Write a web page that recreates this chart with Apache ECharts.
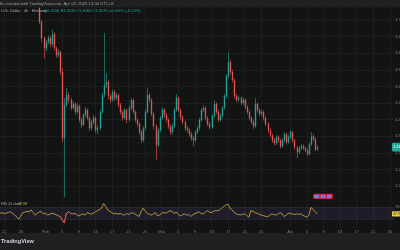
<!DOCTYPE html>
<html><head><meta charset="utf-8">
<script src="https://cdn.jsdelivr.net/npm/echarts@6/dist/echarts.min.js"></script>
<style>html,body{margin:0;padding:0;background:#121413;}#c{width:400px;height:250px;}</style>
</head><body><div id="c"></div>
<script>
// ---- data ----
const categoryCount = 191;          // 12h slots from Jan 21 2025 00:00
const candleStart = 19;             // slot index of first candle
const tickKeys = ['01-22','01-26','02-01','02-05','02-09','02-13','02-17','02-21','02-25','03-01','03-05','03-09','03-13','03-17','03-21','03-25','04-01','04-05','04-09','04-13','04-17','04-21','04-25'];
const tickLabels = ['22','26','Feb','5','9','13','17','21','25','Mar','5','9','13','17','21','25','Apr','5','9','13','17','21','25'];
const priceTicks = {min:1.15, max:1.75, interval:0.05};

const opens = [
1.736,1.694,1.646,1.615,1.633,1.646,1.627,1.658,1.615,1.594,
1.603,1.543,1.344,1.444,1.474,1.459,1.435,1.447,1.423,1.441,
1.399,1.384,1.414,1.429,1.405,1.374,1.393,1.405,1.368,1.374,
1.423,1.474,1.504,1.513,1.471,1.459,1.483,1.465,1.474,1.444,
1.423,1.405,1.429,1.399,1.435,1.459,1.423,1.399,1.387,1.362,
1.338,1.374,1.423,1.474,1.459,1.417,1.380,1.323,1.368,1.405,
1.429,1.414,1.399,1.380,1.362,1.380,1.429,1.465,1.429,1.408,
1.393,1.374,1.368,1.356,1.344,1.338,1.362,1.374,1.399,1.429,
1.435,1.405,1.387,1.377,1.411,1.447,1.423,1.399,1.411,1.435,
1.471,1.531,1.573,1.543,1.519,1.471,1.459,1.465,1.450,1.459,
1.438,1.423,1.405,1.393,1.380,1.447,1.429,1.417,1.423,1.405,
1.387,1.368,1.353,1.338,1.329,1.347,1.338,1.320,1.338,1.356,
1.332,1.347,1.362,1.338,1.317,1.302,1.314,1.320,1.314,1.308,
1.296,1.326,1.350,1.341,1.310];
const closes = [
1.694,1.646,1.615,1.633,1.646,1.627,1.658,1.615,1.594,1.603,
1.543,1.344,1.444,1.474,1.459,1.435,1.447,1.423,1.441,1.399,
1.384,1.414,1.429,1.405,1.374,1.393,1.405,1.368,1.374,1.423,
1.474,1.504,1.513,1.471,1.459,1.483,1.465,1.474,1.444,1.423,
1.405,1.429,1.399,1.435,1.459,1.423,1.399,1.387,1.362,1.338,
1.374,1.423,1.474,1.459,1.417,1.380,1.323,1.368,1.405,1.429,
1.414,1.399,1.380,1.362,1.380,1.429,1.465,1.429,1.408,1.393,
1.374,1.368,1.356,1.344,1.338,1.362,1.374,1.399,1.429,1.435,
1.405,1.387,1.377,1.411,1.447,1.423,1.399,1.411,1.435,1.471,
1.531,1.573,1.543,1.519,1.471,1.459,1.465,1.450,1.459,1.438,
1.423,1.405,1.393,1.380,1.447,1.429,1.417,1.423,1.405,1.387,
1.368,1.353,1.338,1.329,1.347,1.338,1.320,1.338,1.356,1.332,
1.347,1.362,1.338,1.317,1.302,1.314,1.320,1.314,1.308,1.296,
1.326,1.350,1.341,1.310,1.317];
const highs = [
1.745,1.700,1.650,1.640,1.655,1.652,1.670,1.664,1.620,1.612,
1.608,1.555,1.465,1.495,1.482,1.466,1.455,1.452,1.450,1.446,
1.405,1.420,1.438,1.434,1.410,1.399,1.414,1.410,1.383,1.429,
1.480,1.661,1.540,1.519,1.477,1.490,1.489,1.480,1.478,1.450,
1.428,1.435,1.433,1.442,1.466,1.463,1.428,1.404,1.392,1.368,
1.380,1.430,1.495,1.480,1.464,1.422,1.386,1.374,1.411,1.436,
1.434,1.420,1.404,1.386,1.388,1.435,1.477,1.470,1.434,1.413,
1.398,1.381,1.373,1.362,1.350,1.368,1.380,1.405,1.435,1.444,
1.440,1.410,1.393,1.417,1.459,1.452,1.428,1.418,1.441,1.477,
1.537,1.603,1.580,1.550,1.524,1.477,1.472,1.470,1.466,1.464,
1.443,1.428,1.410,1.398,1.465,1.452,1.434,1.430,1.428,1.410,
1.392,1.373,1.358,1.344,1.353,1.352,1.343,1.344,1.362,1.360,
1.353,1.368,1.366,1.342,1.322,1.320,1.326,1.325,1.319,1.313,
1.332,1.362,1.356,1.346,1.322];
const lows = [
1.688,1.633,1.585,1.607,1.627,1.618,1.620,1.608,1.585,1.588,
1.535,1.332,1.167,1.438,1.450,1.428,1.429,1.414,1.418,1.392,
1.374,1.380,1.408,1.398,1.366,1.368,1.387,1.360,1.356,1.368,
1.417,1.468,1.495,1.462,1.450,1.453,1.456,1.459,1.437,1.416,
1.396,1.400,1.390,1.394,1.430,1.416,1.392,1.378,1.354,1.330,
1.332,1.368,1.418,1.452,1.410,1.372,1.278,1.318,1.362,1.400,
1.406,1.392,1.372,1.354,1.356,1.375,1.424,1.422,1.400,1.386,
1.366,1.360,1.348,1.336,1.320,1.332,1.356,1.368,1.394,1.422,
1.398,1.380,1.370,1.372,1.406,1.416,1.392,1.394,1.406,1.430,
1.465,1.525,1.536,1.512,1.464,1.452,1.453,1.443,1.444,1.431,
1.416,1.398,1.386,1.372,1.375,1.422,1.410,1.411,1.398,1.380,
1.360,1.346,1.330,1.322,1.324,1.331,1.313,1.315,1.333,1.326,
1.327,1.342,1.331,1.310,1.284,1.297,1.309,1.308,1.302,1.290,
1.292,1.320,1.335,1.305,1.306];
const rsi = [
50,52,49,51,53,55,50,45,38,30,
40,52,54,56,55,61,52,44,50,55,
55,48,50,44,47,50,48,46,42,39,
28,18,50,55,50,48,50,46,41,45,
48,44,52,50,47,50,55,59,62,67,
83,72,61,56,52,48,50,47,50,46,
44,49,46,50,52,48,44,39,55,67,
58,50,47,44,48,52,41,45,50,53,
50,55,59,56,50,54,46,41,45,48,
44,46,40,45,49,52,55,49,48,53,
59,54,52,56,59,58,62,68,74,78,
80,66,61,52,48,46,44,47,48,43,
37,59,57,52,50,47,44,42,40,39,
42,48,46,44,47,52,48,39,44,50,
50,48,46,48,47,48,44,40,37,45,
70,62,55,47.98];

// ---- build ----
const pad = n => String(n).padStart(2,'0');
const categories = [];
for (let i = 0; i < categoryCount; i++) {
  const d = new Date(Date.UTC(2025,0,21) + i*12*3600e3);
  categories.push(pad(d.getUTCMonth()+1)+'-'+pad(d.getUTCDate())+' '+pad(d.getUTCHours()));
}
const tickMap = {};
tickKeys.forEach((k,j)=>{ tickMap[k+' 00'] = tickLabels[j]; });
const tickInterval = (idx, val) => tickMap.hasOwnProperty(val);

const candleData = opens.map((o, k) => [candleStart + k, o, closes[k], lows[k], highs[k]]);
const rsiData = categories.map((_, i) => i < rsi.length ? rsi[i] : '-');
// segments of the RSI line below 30 (drawn in red on top)
const rsiLowData = categories.map((_, i) => {
  if (i >= rsi.length) return '-';
  const near = rsi[i] < 30 || (i > 0 && rsi[i-1] < 30) || (i+1 < rsi.length && rsi[i+1] < 30);
  return near ? rsi[i] : '-';
});

const FONT = '"Liberation Sans", Arial, sans-serif';
const UP = '#26a69a', DOWN = '#ef5350', GRIDC = '#1b1e1d';

function renderCandle(params, api) {
  const xi = api.value(0);
  const o = api.value(1), c = api.value(2), l = api.value(3), h = api.value(4);
  const po = api.coord([xi, o]), pc = api.coord([xi, c]);
  const pl = api.coord([xi, l]), ph = api.coord([xi, h]);
  const color = c >= o ? UP : DOWN;
  const x = Math.round(po[0]) + 0.5;
  const top = Math.min(po[1], pc[1]);
  const hgt = Math.max(Math.abs(po[1] - pc[1]), 0.8);
  return {type:'group', children:[
    {type:'line', shape:{x1:x, y1:ph[1], x2:x, y2:pl[1]}, style:{stroke:color, lineWidth:0.7, opacity:0.85}},
    {type:'rect', shape:{x:x-0.7, y:top, width:1.4, height:hgt}, style:{fill:color, opacity:0.9}}
  ]};
}

const chart = echarts.init(document.getElementById('c'));
const option = {
  animation: false,
  backgroundColor: '#121413',
  grid: [
    {left:0, right:6, top:3.4, height:199.2, outerBoundsMode:'none', containLabel:false},
    {left:0, right:6, top:198.3, height:30, outerBoundsMode:'none', containLabel:false}
  ],
  xAxis: [
    {type:'category', gridIndex:0, data:categories, boundaryGap:false,
     axisLine:{show:false}, axisTick:{show:false}, axisLabel:{show:false},
     splitLine:{show:true, interval:tickInterval, lineStyle:{color:GRIDC, width:1}}},
    {type:'category', gridIndex:1, data:categories, boundaryGap:false,
     axisLine:{show:false}, axisTick:{show:false},
     axisLabel:{show:true, interval:tickInterval, formatter:v=>tickMap[v]||'', color:'#7c7f88', fontSize:4, margin:1.5, fontFamily:FONT},
     splitLine:{show:true, interval:tickInterval, lineStyle:{color:GRIDC, width:1}}}
  ],
  yAxis: [
    {type:'value', gridIndex:0, position:'right', min:priceTicks.min, max:priceTicks.max, interval:priceTicks.interval,
     axisLine:{show:false}, axisTick:{show:false},
     axisLabel:{color:'#8d9099', fontSize:4.2, margin:1, fontFamily:FONT, showMinLabel:false, showMaxLabel:false, formatter:v=>v.toFixed(2)},
     splitLine:{show:true, showMinLine:false, showMaxLine:false, lineStyle:{color:GRIDC, width:1}}},
    {type:'value', gridIndex:1, position:'right', min:0, max:100, interval:10,
     axisLine:{show:false}, axisTick:{show:false},
     axisLabel:{color:'#8d9099', fontSize:4, margin:1, fontFamily:FONT, formatter:v=> v===70 ? '70.00' : ''},
     splitLine:{show:false}}
  ],
  series: [
    {type:'custom', xAxisIndex:0, yAxisIndex:0, data:candleData, renderItem:renderCandle,
     encode:{x:0, y:[1,2,3,4]}, clip:true},
    {type:'line', xAxisIndex:1, yAxisIndex:1, data:rsiData, showSymbol:false, symbol:'none',
     lineStyle:{width:0.8, color:'#d6b43a'}, itemStyle:{color:'#d6b43a'},
     markArea:{silent:true, itemStyle:{color:'rgba(126,87,194,0.13)'}, data:[[{yAxis:30},{yAxis:70}]]},
     markLine:{silent:true, symbol:'none', label:{show:false},
       lineStyle:{color:'#4d4f5c', type:[1,1.5], width:0.6}, data:[{yAxis:70},{yAxis:30}]}},
    {type:'line', xAxisIndex:1, yAxisIndex:1, data:rsiLowData, showSymbol:false, symbol:'none',
     lineStyle:{width:0.9, color:'#f23645'}, itemStyle:{color:'#f23645'}}
  ]
};
chart.setOption(option);

const lastK = opens.length - 1;
const lastClose = closes[lastK];
const yPrice = chart.convertToPixel({yAxisIndex:0}, lastClose);
const lastRsi = rsi[rsi.length-1];
const yRsi = chart.convertToPixel({yAxisIndex:1}, lastRsi);
const upLast = closes[lastK] >= opens[lastK];

chart.setOption({graphic: [
  {type:'rect', shape:{x:0,y:0,width:400,height:7.5}, style:{fill:'#1f2021'}, z:100},
  {type:'text', x:0, y:3.8, z:101, style:{text:'ffs created with TradingView.com, Apr 02, 2025 13:46 UTC+8', fontSize:4.2, fontFamily:FONT, fill:'#9a9ca3', verticalAlign:'middle'}},
  {type:'text', x:1, y:11.3, z:101, style:{text:'U.S. Dollar · 4h · Bitstamp', fontSize:4, fontFamily:FONT, fill:'#a9abb2', verticalAlign:'middle'}},
  {type:'text', x:44, y:11.3, z:101, style:{text:'O1.3100 H1.3220 L1.3060 C1.3170 +0.0070 (+0.53%)', fontSize:4, fontFamily:FONT, fill:'#26a69a', verticalAlign:'middle'}},
  {type:'text', x:1, y:204.3, z:101, style:{text:'RSI 14 close', fontSize:3.6, fontFamily:FONT, fill:'#a9abb2', verticalAlign:'middle'}},
  {type:'text', x:18, y:204.3, z:101, style:{text:lastRsi.toFixed(2), fontSize:3.6, fontFamily:FONT, fill:'#d6b43a', verticalAlign:'middle'}},
  {type:'rect', shape:{x:313,y:193.8,width:20,height:5.2,r:2}, style:{fill:'#c62836'}, z:101},
  {type:'rect', shape:{x:314.5,y:194.8,width:4.6,height:3.2,r:0.8}, style:{fill:'#6f7fd8'}, z:102},
  {type:'rect', shape:{x:320.7,y:194.8,width:4.6,height:3.2,r:0.8}, style:{fill:'#6f7fd8'}, z:102},
  {type:'rect', shape:{x:326.9,y:194.8,width:4.6,height:3.2,r:0.8}, style:{fill:'#6f7fd8'}, z:102},
  {type:'rect', shape:{x:392,y:yPrice-4.3,width:10,height:8.6,r:1}, style:{fill: upLast ? UP : DOWN}, z:101},
  {type:'text', x:393, y:yPrice, z:102, style:{text:lastClose.toFixed(4), fontSize:4, fontFamily:FONT, fill:'#ffffff', verticalAlign:'middle'}},
  {type:'rect', shape:{x:392,y:yRsi-2.6,width:10,height:5.2,r:1}, style:{fill:'#f0cd3c'}, z:101},
  {type:'text', x:393, y:yRsi, z:102, style:{text:lastRsi.toFixed(2), fontSize:3.6, fontFamily:FONT, fill:'#131722', verticalAlign:'middle'}},
  {type:'rect', shape:{x:0,y:233,width:400,height:17}, style:{fill:'#1f2021'}, z:100},
  {type:'text', x:1, y:241.5, z:101, style:{text:'TradingView', fontSize:5.6, fontWeight:'bold', fontFamily:FONT, fill:'#d1d4dc', verticalAlign:'middle'}}
]});
</script>
</body></html>
